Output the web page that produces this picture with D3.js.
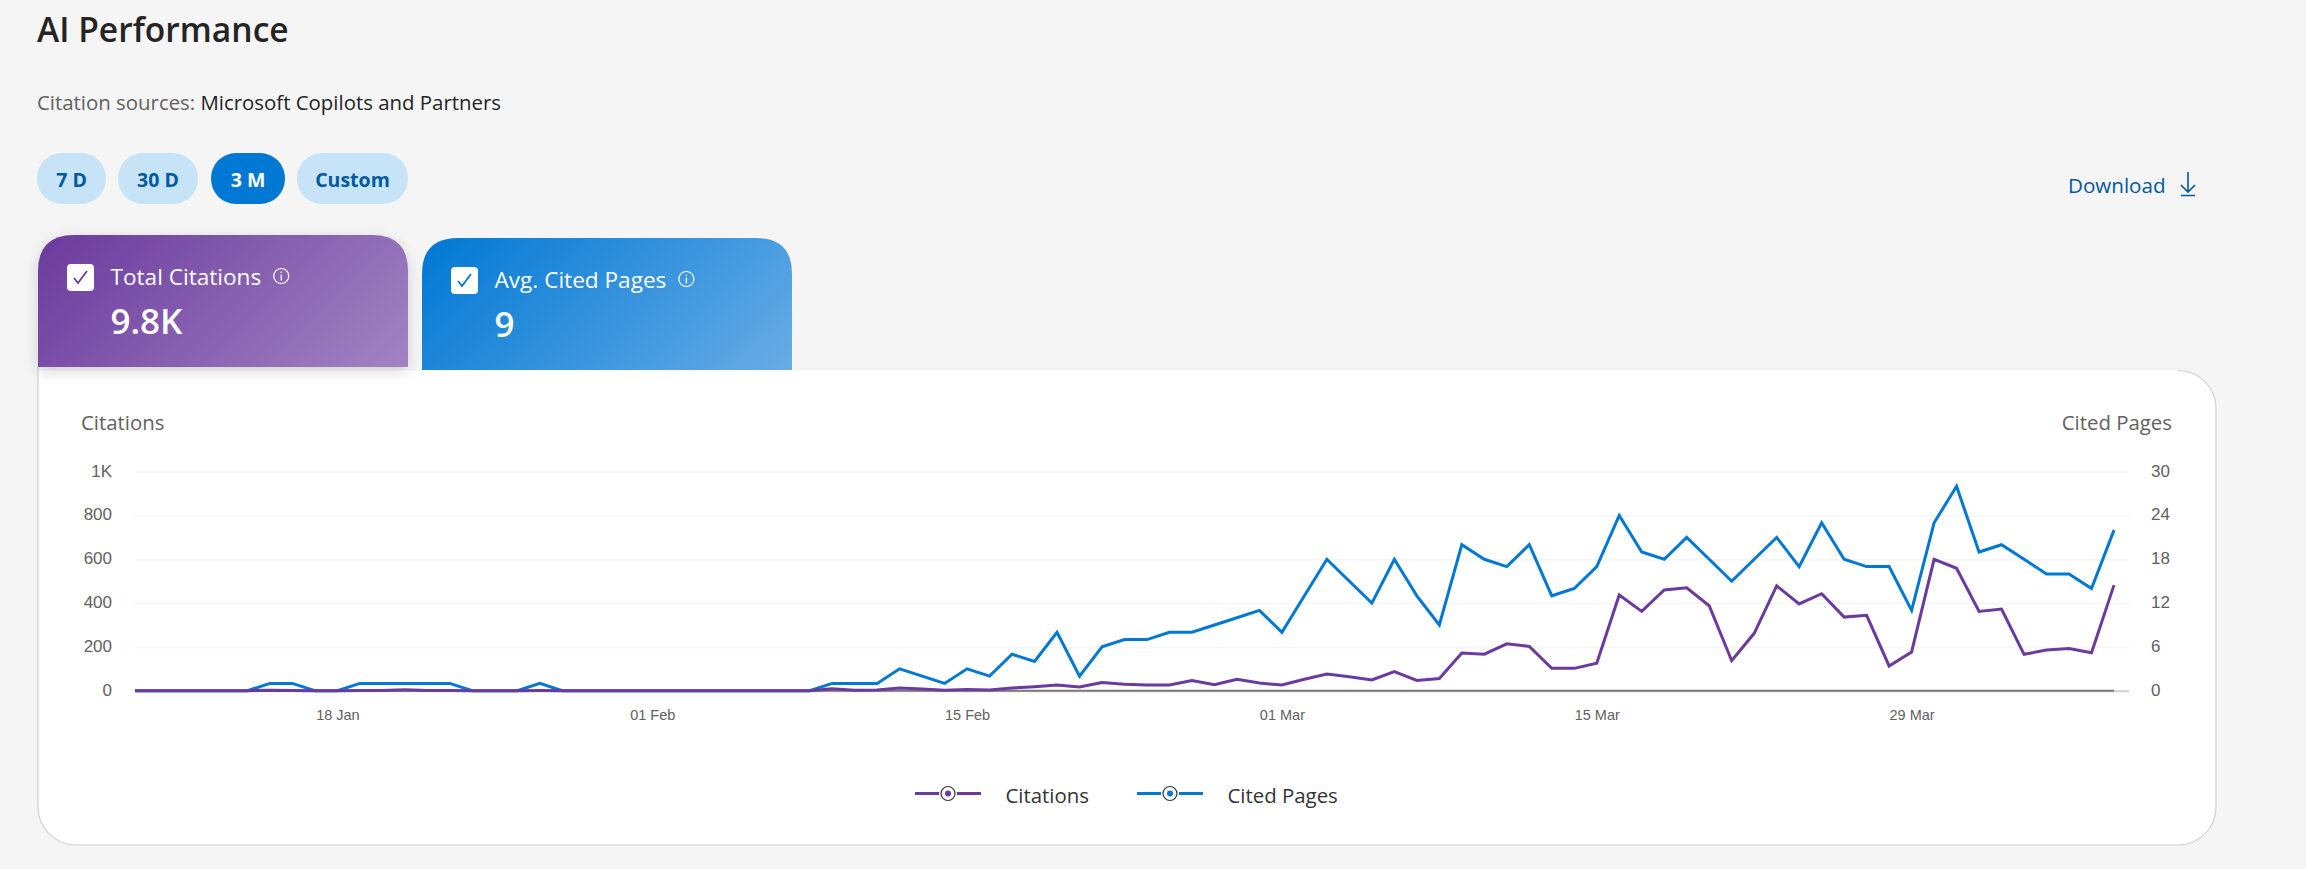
<!DOCTYPE html>
<html>
<head>
<meta charset="utf-8">
<script src="https://cdn.jsdelivr.net/npm/d3@7"></script>
<style>
  html, body { margin: 0; padding: 0; background: #f5f5f5; }
  svg { display: block; font-family: "Open Sans", "Noto Sans", sans-serif; }
  .axis text { font-family: "Liberation Sans", Arial, sans-serif; fill: #616161; }
</style>
</head>
<body>
<div id="chart"></div>
<script>
var width = 2306,
    height = 869;

var seriesNames = ["Citations", "Cited Pages"];
var seriesColors = ["#6b3a9e", "#0078d4"];

var citations = [0, 0, 0, 0, 0, 0, 2, 1, 0, 0, 1, 1, 4, 1, 1, 0, 0, 0, 1, 0,
  0, 0, 0, 0, 0, 0, 0, 0, 0, 0, 0, 9, 2, 3, 12, 8, 2, 5, 3, 12,
  18, 26, 17, 37, 29, 26, 26, 46, 27, 52, 35, 26, 52, 76, 64, 49, 87, 47, 56, 172,
  167, 214, 202, 102, 102, 125, 437, 362, 460, 470, 388, 137, 262, 479, 396, 443, 336, 344, 113, 177,
  600, 559, 362, 373, 166, 186, 193, 173, 482];

var citedPages = [0, 0, 0, 0, 0, 0, 1, 1, 0, 0, 1, 1, 1, 1, 1, 0, 0, 0, 1, 0,
  0, 0, 0, 0, 0, 0, 0, 0, 0, 0, 0, 1, 1, 1, 3, 2, 1, 3, 2, 5,
  4, 8, 2, 6, 7, 7, 8, 8, 9, 10, 11, 8, 13, 18, 15, 12, 18, 13, 9, 20,
  18, 17, 20, 13, 14, 17, 24, 19, 18, 21, 18, 15, 18, 21, 17, 23, 18, 17, 17, 11,
  23, 28, 19, 20, 18, 16, 16, 14, 22];

var leftTicks = [0, 200, 400, 600, 800, 1000];
var rightTicks = [0, 6, 12, 18, 24, 30];
var dateTicks = ["2025-01-18", "2025-02-01", "2025-02-15", "2025-03-01", "2025-03-15", "2025-03-29"];
var firstDay = "2025-01-09";

var pills = ["7 D", "30 D", "3 M", "Custom"];
var tabs = ["Total Citations", "Avg. Cited Pages"];
var tabValues = ["9.8K", "9"];

var parseDay = d3.utcParse("%Y-%m-%d");

var x = d3.scaleUtc()
    .domain([parseDay(firstDay), d3.utcDay.offset(parseDay(firstDay), citations.length - 1)])
    .range([135, 2114]);
var yLeft = d3.scaleLinear().domain([0, 1000]).range([690.7, 471.7]);
var yRight = d3.scaleLinear().domain([0, 30]).range([690.7, 471.7]);

var svg = d3.select("#chart").append("svg")
    .attr("width", width)
    .attr("height", height)
    .attr("viewBox", "0 0 " + width + " " + height);

var defs = svg.append("defs");

// 135deg css style gradient: iso lines stay at 45 degrees on the wide tab
function gradient(id, from, to, x0, y0, w, h) {
  var cx = x0 + w / 2, cy = y0 + h / 2, d = (w + h) / 4;
  var g = defs.append("linearGradient").attr("id", id)
      .attr("gradientUnits", "userSpaceOnUse")
      .attr("x1", cx - d).attr("y1", cy - d).attr("x2", cx + d).attr("y2", cy + d);
  g.append("stop").attr("offset", "0%").attr("stop-color", from);
  g.append("stop").attr("offset", "100%").attr("stop-color", to);
}
gradient("tabPurple", "#6b3a9e", "#a283c2", 38, 235, 370, 132);
gradient("tabBlue", "#0078d4", "#68ace6", 422, 238, 370, 132);

defs.append("filter").attr("id", "tabShadow")
    .attr("x", "-10%").attr("y", "-10%").attr("width", "120%").attr("height", "130%")
  .append("feDropShadow")
    .attr("dx", 0).attr("dy", 4).attr("stdDeviation", 7)
    .attr("flood-color", "#000").attr("flood-opacity", 0.16);

// page header
svg.append("text").attr("x", 37).attr("y", 42)
    .attr("font-size", 33.6).attr("font-weight", 600).attr("fill", "#242424")
    .text("AI Performance");

var sources = svg.append("text").attr("x", 37).attr("y", 110)
    .attr("font-size", 20.4).attr("fill", "#616161");
sources.append("tspan").text("Citation sources: ");
sources.append("tspan").attr("fill", "#242424").attr("font-weight", 500).text("Microsoft Copilots and Partners");

// range pills
var pillBox = [[37, 69], [118, 80], [211, 74], [297, 111]];
var pill = svg.append("g").selectAll("g").data(pills).join("g")
    .attr("transform", function(d, i) { return "translate(" + pillBox[i][0] + ",153)"; });
pill.append("rect")
    .attr("width", function(d, i) { return pillBox[i][1]; })
    .attr("height", 51)
    .attr("rx", 25)
    .attr("fill", function(d) { return d == "3 M" ? "#0078d4" : "#c7e3f7"; });
pill.append("text")
    .attr("x", function(d, i) { return pillBox[i][1] / 2; })
    .attr("y", 34)
    .attr("text-anchor", "middle")
    .attr("font-size", 19.5).attr("font-weight", 700)
    .attr("fill", function(d) { return d == "3 M" ? "#fff" : "#005a9e"; })
    .text(function(d) { return d; });

// download link
svg.append("text").attr("x", 2068).attr("y", 193)
    .attr("font-size", 20.6).attr("font-weight", 500).attr("fill", "#005a9e")
    .text("Download");
svg.append("path")
    .attr("d", "M2188 172V192M2181 185L2188 192L2195 185M2181 195.5H2195")
    .attr("fill", "none").attr("stroke", "#005a9e").attr("stroke-width", 1.6);

// white card behind the chart, top left corner stays square under the tab
svg.append("path")
    .attr("d", "M38 370.5H2178A38 38 0 0 1 2216 408.5V807A38 38 0 0 1 2178 845H76A38 38 0 0 1 38 807Z")
    .attr("fill", "#fff");
svg.append("path")
    .attr("d", "M2178 370.5A38 38 0 0 1 2216 408.5V807A38 38 0 0 1 2178 845H76A38 38 0 0 1 38 807V367")
    .attr("fill", "none").attr("stroke", "#d1d1d1").attr("stroke-width", 1.2);

// tabs
function tabPath(x0, y0, w, h, r) {
  return "M" + x0 + " " + (y0 + h) + "V" + (y0 + r) + "Q" + x0 + " " + y0 + " " + (x0 + r) + " " + y0 +
    "H" + (x0 + w - r) + "Q" + (x0 + w) + " " + y0 + " " + (x0 + w) + " " + (y0 + r) + "V" + (y0 + h) + "Z";
}

function drawTab(i, x0, y0, w, h, fill, shadow) {
  var g = svg.append("g");
  var p = g.append("path").attr("d", tabPath(x0, y0, w, h, 36)).attr("fill", "url(#" + fill + ")");
  if (shadow) p.attr("filter", "url(#tabShadow)");
  g.append("rect").attr("x", x0 + 29).attr("y", y0 + 29).attr("width", 27).attr("height", 27)
      .attr("rx", 4).attr("fill", "#fff");
  g.append("path")
      .attr("d", "M" + (x0 + 36) + " " + (y0 + 43) + "l4 5l9 -12")
      .attr("fill", "none").attr("stroke", seriesColors[i]).attr("stroke-width", 1.8);
  var label = g.append("text").attr("x", x0 + 72.5).attr("y", y0 + 50)
      .attr("font-size", 22.6).attr("fill", "#fff").text(tabs[i]);
  var labelEnd = x0 + 72.5 + label.node().getComputedTextLength();
  g.append("circle").attr("cx", labelEnd + 20).attr("cy", y0 + 41).attr("r", 7.5)
      .attr("fill", "none").attr("stroke", "#fff").attr("stroke-width", 1.2);
  g.append("path").attr("d", "M" + (labelEnd + 20) + " " + (y0 + 39.5) + "v6M" + (labelEnd + 20) + " " + (y0 + 36.5) + "v1.6")
      .attr("stroke", "#fff").attr("stroke-width", 1.3);
  g.append("text").attr("x", x0 + 72.5).attr("y", y0 + 99)
      .attr("font-size", 35).attr("font-weight", 600).attr("fill", "#fff").text(tabValues[i]);
}
drawTab(1, 422, 238, 370, 132, "tabBlue", false);
drawTab(0, 38, 235, 370, 132, "tabPurple", true);

// axis titles
svg.append("text").attr("x", 81).attr("y", 430)
    .attr("font-size", 20.4).attr("fill", "#616161").text(seriesNames[0]);
svg.append("text").attr("x", 2172).attr("y", 430).attr("text-anchor", "end")
    .attr("font-size", 20.4).attr("fill", "#616161").text(seriesNames[1]);

// axes
var leftAxis = d3.axisLeft(yLeft)
    .tickValues(leftTicks)
    .tickSize(-(2129 - 135))
    .tickPadding(23)
    .tickFormat(function(d) { return d == 1000 ? "1K" : d; });
var gLeft = svg.append("g").attr("class", "axis").attr("transform", "translate(135,0)").call(leftAxis);
gLeft.select(".domain").remove();
gLeft.selectAll("line").attr("stroke", "#f7f7f7").attr("stroke-width", 2);
gLeft.selectAll("text").attr("font-size", 17).attr("y", -1);
gLeft.selectAll(".tick").filter(function(d) { return d == 0; }).select("line").attr("stroke", "#cfcfcf");

var rightAxis = d3.axisRight(yRight).tickValues(rightTicks).tickSize(0).tickPadding(22);
var gRight = svg.append("g").attr("class", "axis").attr("transform", "translate(2129,0)").call(rightAxis);
gRight.select(".domain").remove();
gRight.selectAll("text").attr("font-size", 17).attr("y", -1);

var bottomAxis = d3.axisBottom(x)
    .tickValues(dateTicks.map(parseDay))
    .tickSize(0)
    .tickFormat(d3.utcFormat("%d %b"));
var gBottom = svg.append("g").attr("class", "axis").attr("transform", "translate(0,705)").call(bottomAxis);
gBottom.select(".domain").remove();
gBottom.selectAll("text").attr("font-size", 14.5).attr("dy", 0).attr("y", 15);

// dark part of the baseline under the data
svg.append("line")
    .attr("x1", x.range()[0]).attr("x2", x.range()[1])
    .attr("y1", yLeft(0)).attr("y2", yLeft(0))
    .attr("stroke", "#7a7a7a").attr("stroke-width", 2);

// lines, blue first so purple stays on top
function lineFor(scale) {
  return d3.line()
      .x(function(d, i) { return x(d3.utcDay.offset(parseDay(firstDay), i)); })
      .y(function(d) { return scale(d); });
}
svg.append("path").datum(citedPages)
    .attr("d", lineFor(yRight))
    .attr("fill", "none").attr("stroke", seriesColors[1]).attr("stroke-width", 3);
svg.append("path").datum(citations)
    .attr("d", lineFor(yLeft))
    .attr("fill", "none").attr("stroke", seriesColors[0]).attr("stroke-width", 3);

// legend
var legendX = [915, 1137];
var legend = svg.append("g").selectAll("g").data(seriesNames).join("g")
    .attr("transform", function(d, i) { return "translate(" + legendX[i] + ",793.5)"; });
legend.append("line").attr("x1", 0).attr("x2", 66)
    .attr("stroke", function(d, i) { return seriesColors[i]; }).attr("stroke-width", 3);
legend.append("circle").attr("cx", 33).attr("r", 9).attr("fill", "#fff");
legend.append("circle").attr("cx", 33).attr("r", 7).attr("fill", "#fff")
    .attr("stroke", "#333").attr("stroke-width", 1.2);
legend.append("circle").attr("cx", 33).attr("r", 3)
    .attr("fill", function(d, i) { return seriesColors[i]; });
legend.append("text").attr("x", 90.5).attr("y", 9.5)
    .attr("font-size", 20.4).attr("fill", "#333")
    .text(function(d) { return d; });
</script>
</body>
</html>
